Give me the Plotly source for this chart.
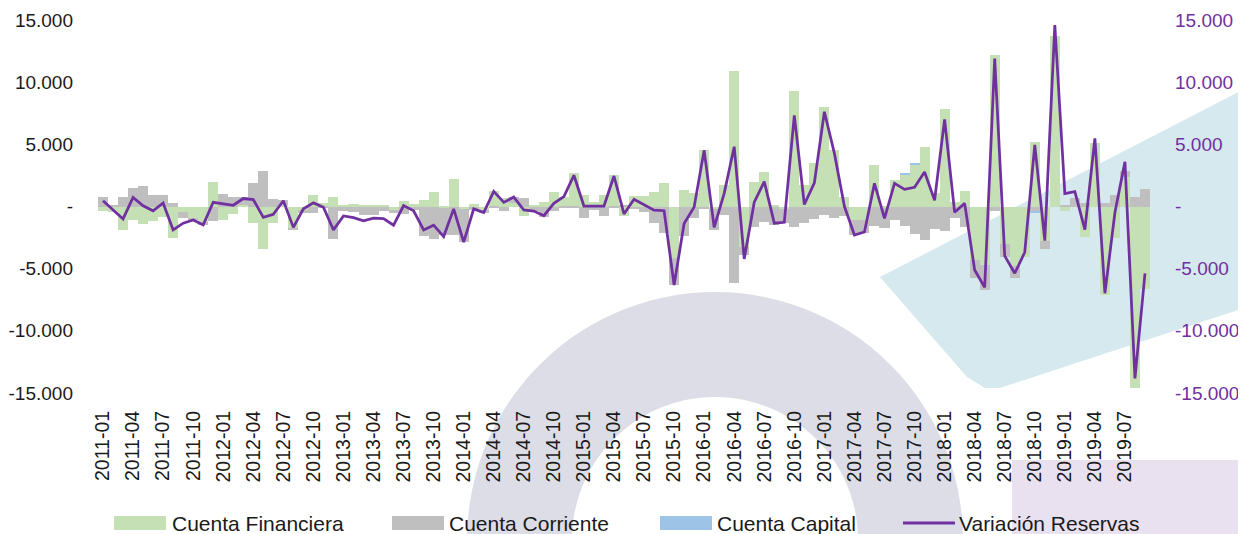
import math
import plotly.graph_objects as go

# ---------------- data (millones USD, monthly 2011-01 .. 2019-09) ----------------
months = [f"{y}-{m:02d}" for y in range(2011, 2020) for m in range(1, 13)][:105]

cuenta_financiera = [
    -330, -450, -1880, -1060, -1420, -1150, -860, -2500, -420, -950, -1250, 1940,
    -1080, -600, 150, -1300, -3390, -1300, 150, -1800, -300, 920, 250, 740,
    100, 200, 50, 100, 100, -250, 440, 200, 530, 1150, -100, 2200,
    -200, 200, -300, 1260, 700, 300, -770, 100, 390, 1190, 790, 2670,
    925, 390, 925, 2530, -750, 840, 840, 1190, 1860, -4170, 1350, 1060,
    4540, -200, 1730, 10900, -3230, 2000, 2800, 150, -200, 9310, 1730, 3470,
    8030, 4540, 790, -1100, -1100, 3340, -100, 2130, 2610, 3340, 4760, 1100,
    7810, 400, 1240, -4300, -4700, 12170, -3000, -4800, -4090, 5210, -2800, 13740,
    -360, 0, -2430, 5070, -7130, -2560, 2400, -14570, -6670,
]
cuenta_corriente = [
    740, 150, 780, 1450, 1650, 910, 910, 270, -540, -150, -200, -1190,
    1000, 740, 600, 1860, 2880, 580, 400, -100, -200, -550, -150, -2640,
    -350, -450, -650, -700, -350, -300, -630, -300, -2410, -2630, -2230, -2330,
    -2670, -300, -200, -100, -400, 450, 650, -400, -820, -400, -150, -100,
    -900, -300, -740, -100, 50, -200, -415, -1350, -2100, -2140, -2400, -950,
    -200, -1690, -700, -6180, -670, -1620, -1220, -1500, -1090, -1620, -1350, -1000,
    -700, -900, -760, -1200, -1000, -1550, -1650, -1100, -1570, -2240, -2690, -1830,
    -1940, -950, -1650, -1470, -2000, -330, -1100, -950, 0, -350, -650, 0,
    100, 650, 250, 0, 250, 920, 480, 790, 1410,
]
cuenta_capital = [0] * 80 + [100, 80] + [0] * 11 + [-200] + [0] * 11
variacion_reservas = [
    460, -270, -1000, 730, 60, -350, 280, -1880, -1340, -1080, -1480, 340,
    250, 100, 640, 560, -870, -620, 460, -1680, -180, 290, -60, -1880,
    -760, -900, -1150, -930, -970, -1500, 70, -350, -1880, -1500, -2420, -190,
    -2870, -190, -480, 1220, 330, 760, -280, -370, -740, 260, 800, 2510,
    40, 40, 40, 2450, -600, 580, 110, -300, -340, -6310, -1370, -50,
    4520, -1680, 1060, 4810, -4220, 350, 2000, -1340, -1270, 7330, 160, 1900,
    7620, 4270, 0, -2290, -2050, 1860, -950, 1860, 1380, 1540, 2770, 500,
    7010, -470, 250, -5110, -6500, 11900, -3970, -5370, -3680, 4950, -2740, 14600,
    1040, 1200, -1860, 5480, -6980, -480, 3600, -13820, -5370,
]

tick_months = months[::3]
y_tickvals = [-15000, -10000, -5000, 0, 5000, 10000, 15000]
y_ticktext = ["-15.000", "-10.000", "-5.000", "-", "5.000", "10.000", "15.000"]

legend_names = ["Cuenta Financiera", "Cuenta Corriente", "Cuenta Capital", "Variación Reservas"]

# ---------------- style ----------------
GREEN, GRAY, BLUE, PURPLE = "#c5e0b4", "#bfbfbf", "#9dc3e6", "#7030a0"
FONT = "Liberation Sans, Arial, sans-serif"
TXT = "#1a1a1a"
OFF = 8                       # page body margin
W, H = 1246 - OFF, 534 - OFF  # figure size inside the window
# plot area in window pixels: x 98..1150, y 20..393
L, R, T, B = 98 - OFF, 1246 - 1150, 20 - OFF, 534 - 393
PW, PH = W - L - R, H - T - B


def px(x):  # window pixel -> paper
    return (x - OFF - L) / PW


def py(y):
    return (H - B - (y - OFF)) / PH


fig = go.Figure()
fig.add_trace(go.Bar(x=months, y=cuenta_financiera, name=legend_names[0],
                     marker=dict(color=GREEN, line=dict(width=0)), showlegend=False))
fig.add_trace(go.Bar(x=months, y=cuenta_corriente, name=legend_names[1],
                     marker=dict(color=GRAY, line=dict(width=0)), showlegend=False))
fig.add_trace(go.Bar(x=months, y=cuenta_capital, name=legend_names[2],
                     marker=dict(color=BLUE, line=dict(width=0)), showlegend=False))
fig.add_trace(go.Scatter(x=months, y=variacion_reservas, name=legend_names[3], yaxis="y2",
                         mode="lines", line=dict(color=PURPLE, width=2.75), showlegend=False))

# ---------------- background watermark ----------------
shapes = []
cx, cy, Ro, Ri = 715, 540, 248, 143
pts = []
for k in range(0, 61):
    a = math.pi - math.pi * k / 60
    pts.append((cx + Ro * math.cos(a), cy - Ro * math.sin(a)))
for k in range(0, 61):
    a = math.pi * k / 60
    pts.append((cx + Ri * math.cos(a), cy - Ri * math.sin(a)))
path = "M " + " L ".join(f"{px(x):.4f},{py(y):.4f}" for x, y in pts) + " Z"
shapes.append(dict(type="path", path=path, xref="paper", yref="paper",
                   fillcolor="#dcdde7", line=dict(width=0), layer="below"))
teal = [(880, 277), (1250, 86), (1250, 306), (1000, 388), (985, 388), (967, 377)]
path = "M " + " L ".join(f"{px(x):.4f},{py(y):.4f}" for x, y in teal) + " Z"
shapes.append(dict(type="path", path=path, xref="paper", yref="paper",
                   fillcolor="#d6e9ee", line=dict(width=0), layer="below"))
shapes.append(dict(type="rect", xref="paper", yref="paper", x0=px(1012), x1=px(1250),
                   y0=py(460), y1=py(540), fillcolor="#e9e1f0", line=dict(width=0), layer="below"))

# ---------------- custom legend ----------------
annotations = []
ly = 523
for (x0, x1, col, tx, name) in [(114, 166, GREEN, 170, legend_names[0]),
                                (392, 444, GRAY, 447, legend_names[1]),
                                (660, 712, BLUE, 715, legend_names[2])]:
    shapes.append(dict(type="rect", xref="paper", yref="paper", x0=px(x0), x1=px(x1),
                       y0=py(ly + 7), y1=py(ly - 7), fillcolor=col, line=dict(width=0)))
    annotations.append(dict(x=px(tx), y=py(ly), xref="paper", yref="paper", text=name,
                            showarrow=False, xanchor="left", yanchor="middle",
                            font=dict(family=FONT, size=21, color=TXT)))
shapes.append(dict(type="line", xref="paper", yref="paper", x0=px(903), x1=px(955),
                   y0=py(ly), y1=py(ly), line=dict(color=PURPLE, width=3)))
annotations.append(dict(x=px(957), y=py(ly), xref="paper", yref="paper", text=legend_names[3],
                        showarrow=False, xanchor="left", yanchor="middle",
                        font=dict(family=FONT, size=21, color=TXT)))

fig.update_layout(
    width=W, height=H, autosize=False,
    margin=dict(l=L, r=R, t=T, b=B, pad=0),
    paper_bgcolor="white", plot_bgcolor="rgba(0,0,0,0)",
    barmode="relative", bargap=0,
    font=dict(family=FONT, color=TXT),
    showlegend=False,
    shapes=shapes, annotations=annotations,
    xaxis=dict(type="category", range=[-0.5, len(months) - 0.5], tickmode="array",
               tickvals=tick_months, ticktext=tick_months, tickangle=-90,
               tickfont=dict(family=FONT, size=19.5, color=TXT), ticks="",
               ticklabelstandoff=13, showgrid=False, zeroline=False, showline=False,
               automargin=False),
    yaxis=dict(range=[-15000, 15000], tickmode="array", tickvals=y_tickvals,
               ticktext=y_ticktext, tickfont=dict(family=FONT, size=19, color=TXT),
               ticks="", ticklabelstandoff=24, showgrid=False, zeroline=False,
               showline=False, automargin=False),
    yaxis2=dict(range=[-15000, 15000], overlaying="y", side="right", tickmode="array",
                tickvals=y_tickvals, ticktext=y_ticktext,
                tickfont=dict(family=FONT, size=19, color=PURPLE), ticks="",
                ticklabelstandoff=24, showgrid=False, zeroline=False, showline=False,
                automargin=False),
)

fig.write_html("out.html")
